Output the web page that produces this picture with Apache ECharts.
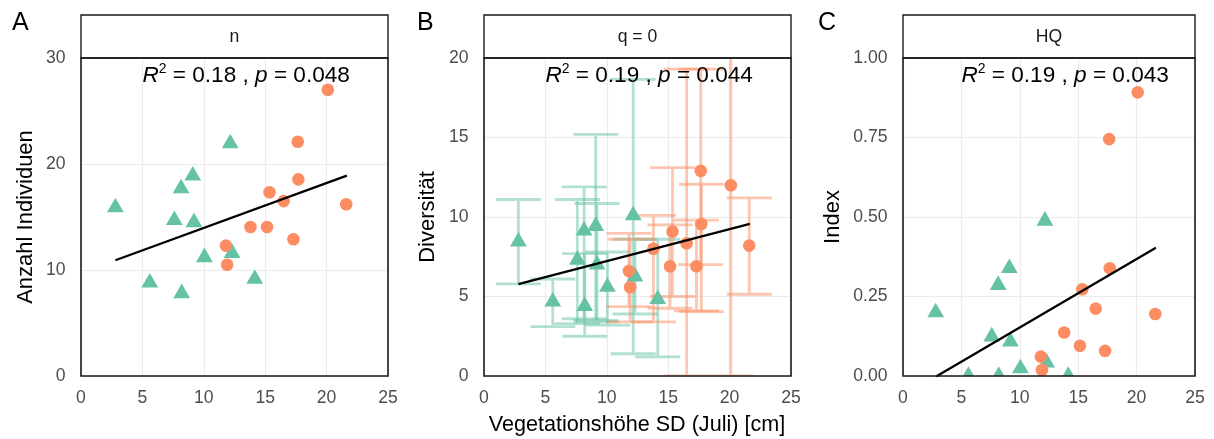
<!DOCTYPE html>
<html><head><meta charset="utf-8">
<script src="https://cdn.jsdelivr.net/npm/echarts@6/dist/echarts.min.js"></script>
<style>html,body{margin:0;padding:0;background:#fff}#c{width:1214px;height:439px}</style>
</head><body><div id="c"></div>
<script>
// ---------------- data ----------------
const xTicks = [0, 5, 10, 15, 20, 25];
const yTicksN = [0, 10, 20, 30];
const yTicksQ0 = [0, 5, 10, 15, 20];
const yTicksHQ = [0, 0.25, 0.5, 0.75, 1];

const panelLetters = ['A', 'B', 'C'];
const stripLabels = ['n', 'q = 0', 'HQ'];
const yTitles = ['Anzahl Individuen', 'Diversität', 'Index'];
const xTitle = 'Vegetationshöhe SD (Juli) [cm]';
const statR2 = ['0.18', '0.19', '0.19'];
const statP = ['0.048', '0.044', '0.043'];

// green group (triangles)
const greenX    = [2.8, 5.6, 7.6, 8.15, 8.2, 9.1, 9.2, 10.05, 12.15, 12.3, 14.15];
const greenN    = [15.9, 8.8, 14.7, 17.7, 7.8, 18.9, 14.5, 11.2, 21.95, 11.6, 9.15];
const greenQ0   = [8.45, 4.67, 7.3, 9.14, 4.4, 9.43, 7.0, 5.6, 10.1, 6.25, 4.83];
const greenQ0Lo = [5.8, 3.1, 3.3, 3.6, 2.5, 3.5, 3.4, 3.2, 1.4, 3.9, 1.2];
const greenQ0Hi = [11.1, 6.1, 11.1, 11.9, 7.7, 15.2, 10.85, 7.8, 18.65, 8.6, 8.6];
const greenHQ   = [0.20, 0.0, 0.124, 0.286, 0.0, 0.339, 0.108, 0.024, 0.488, 0.042, 0.0];

// orange group (circles)
const orangeX    = [11.8, 11.9, 13.8, 15.15, 15.35, 16.5, 17.3, 17.65, 17.7, 20.1, 21.6];
const orangeN    = [12.3, 10.5, 14.06, 14.06, 17.33, 16.5, 12.9, 22.1, 18.55, 27.0, 16.2];
const orangeQ0   = [6.6, 5.58, 8.0, 6.9, 9.08, 8.35, 6.9, 12.9, 9.56, 12.0, 8.2];
const orangeQ0Lo = [4.36, 3.4, 3.4, 4.26, 5.0, 0, 4.1, 7.0, 4.05, 0, 5.14];
const orangeQ0Hi = [8.97, 8.6, 10.1, 9.5, 13.1, 19.3, 9.8, 19.3, 12.06, 21.5, 11.2];
const orangeHQ   = [0.061, 0.019, 0.137, 0.095, 0.273, 0.212, 0.079, 0.745, 0.339, 0.892, 0.195];

// fitted regression lines (endpoints)
const fitX  = [2.8, 21.65];
const fitN  = [10.92, 18.9];
const fitQ0 = [5.78, 9.57];
const fitHQ = [-0.002, 0.403];

// ---------------- layout / style ----------------
const GRIDS = [{left: 81, width: 307}, {left: 484, width: 307}, {left: 903, width: 292}];
const TOP = 58, H = 318, STRIP_TOP = 15;
const FONT = '"Liberation Sans", Arial, Helvetica, sans-serif';
const GREEN = '#66c2a5', ORANGE = '#fc8d62';
const yTickSets = [yTicksN, yTicksQ0, yTicksHQ];
const fits = [fitN, fitQ0, fitHQ];

const chart = echarts.init(document.getElementById('c'), null, {renderer: 'canvas'});

function markerSeries(gi, xs, ys, shape, color) {
  return {
    type: 'custom', xAxisIndex: gi, yAxisIndex: gi, clip: true, z: 5, silent: true,
    data: xs.map((x, i) => [x, ys[i]]),
    renderItem: (params, api) => {
      const p = api.coord([api.value(0), api.value(1)]);
      if (shape === 'tri') {
        const r = 9.7;
        return {type: 'polygon', shape: {points: [[p[0], p[1] - r], [p[0] + r * 0.866, p[1] + r / 2], [p[0] - r * 0.866, p[1] + r / 2]]}, style: {fill: color}};
      }
      return {type: 'circle', shape: {cx: p[0], cy: p[1], r: 6.3}, style: {fill: color}};
    }
  };
}

function errSeries(gi, xs, lo, hi, color) {
  return {
    type: 'custom', xAxisIndex: gi, yAxisIndex: gi, clip: true, z: 3, silent: true,
    data: xs.map((x, i) => [x, lo[i], hi[i]]),
    renderItem: (params, api) => {
      const a = api.coord([api.value(0), api.value(1)]);
      const b = api.coord([api.value(0), api.value(2)]);
      const w = 22.5;
      return {
        type: 'polyline',
        shape: {points: [[a[0] - w, a[1]], [a[0] + w, a[1]], [a[0], a[1]], [b[0], b[1]], [b[0] - w, b[1]], [b[0] + w, b[1]]]},
        style: {stroke: color, lineWidth: 2.8, fill: null, opacity: 0.5}
      };
    }
  };
}

function lineSeries(gi, ys) {
  return {
    type: 'line', xAxisIndex: gi, yAxisIndex: gi, z: 6, silent: true, clip: true,
    data: fitX.map((x, i) => [x, ys[i]]), symbol: 'none',
    lineStyle: {color: '#000', width: 2.3}
  };
}

const series = [];
series.push(markerSeries(0, greenX, greenN, 'tri', GREEN));
series.push(markerSeries(0, orangeX, orangeN, 'circ', ORANGE));
series.push(errSeries(1, greenX, greenQ0Lo, greenQ0Hi, GREEN));
series.push(errSeries(1, orangeX, orangeQ0Lo, orangeQ0Hi, ORANGE));
series.push(markerSeries(1, greenX, greenQ0, 'tri', GREEN));
series.push(markerSeries(1, orangeX, orangeQ0, 'circ', ORANGE));
series.push(markerSeries(2, greenX, greenHQ, 'tri', GREEN));
series.push(markerSeries(2, orangeX, orangeHQ, 'circ', ORANGE));
for (let i = 0; i < 3; i++) series.push(lineSeries(i, fits[i]));

const option = {
  animation: false,
  backgroundColor: '#fff',
  grid: GRIDS.map(g => ({left: g.left, width: g.width, top: TOP, height: H, containLabel: false})),
  xAxis: GRIDS.map((g, i) => ({
    gridIndex: i, type: 'value', min: xTicks[0], max: xTicks[xTicks.length - 1], interval: xTicks[1] - xTicks[0],
    axisLine: {show: false}, axisTick: {show: false},
    splitLine: {show: true, lineStyle: {color: '#ebebeb', width: 1.2}},
    axisLabel: {color: '#4d4d4d', fontSize: 17.6, fontFamily: FONT, margin: 13}
  })),
  yAxis: GRIDS.map((g, i) => {
    const t = yTickSets[i];
    return {
      gridIndex: i, type: 'value', min: t[0], max: t[t.length - 1], interval: t[1] - t[0],
      axisLine: {show: false}, axisTick: {show: false},
      splitLine: {show: true, lineStyle: {color: '#ebebeb', width: 1.2}},
      axisLabel: {color: '#4d4d4d', fontSize: 17.6, fontFamily: FONT, margin: 15.5,
        formatter: i === 2 ? (v => v.toFixed(2)) : (v => String(v))}
    };
  }),
  series: series
};
chart.setOption(option);

// ---------------- decorations ----------------
const yTitleX = [25.5, 427.5, 832.5];
const letterX = [12, 417, 818];
const graphic = [];
GRIDS.forEach((g, i) => {
  // strip
  graphic.push({type: 'rect', z: 100, shape: {x: g.left, y: STRIP_TOP, width: g.width, height: TOP - STRIP_TOP},
    style: {fill: '#fff', stroke: '#1a1a1a', lineWidth: 1.4}});
  graphic.push({type: 'text', z: 101, x: g.left + g.width / 2, y: 37,
    style: {text: stripLabels[i], fill: '#1a1a1a', font: '17.6px ' + FONT, textAlign: 'center', textVerticalAlign: 'middle'}});
  // panel border
  graphic.push({type: 'rect', z: 100, shape: {x: g.left, y: TOP, width: g.width, height: H},
    style: {fill: null, stroke: '#1a1a1a', lineWidth: 1.6}});
  // panel letter
  graphic.push({type: 'text', z: 101, x: letterX[i], y: 23.5,
    style: {text: panelLetters[i], fill: '#000', font: '25px ' + FONT, textAlign: 'left', textVerticalAlign: 'middle'}});
  // y title
  graphic.push({type: 'text', z: 101, x: yTitleX[i], y: TOP + H / 2, rotation: Math.PI / 2,
    style: {text: yTitles[i], fill: '#000', font: '22px ' + FONT, textAlign: 'center', textVerticalAlign: 'middle'}});
  // annotation
  const t = yTickSets[i];
  const px = chart.convertToPixel({gridIndex: i}, [5, t[t.length - 1]]);
  graphic.push({type: 'text', z: 101, x: px[0], y: px[1] + 17.5,
    style: {
      text: '{i|R}{s|2}{t| = ' + statR2[i] + ' , }{i|p}{t| = ' + statP[i] + '}',
      textAlign: 'left', textVerticalAlign: 'middle',
      rich: {
        i: {fontStyle: 'italic', fontSize: 22.6, fontFamily: FONT, color: '#000', lineHeight: 26},
        t: {fontSize: 22.6, fontFamily: FONT, color: '#000', lineHeight: 26},
        s: {fontSize: 14, fontFamily: FONT, color: '#000', lineHeight: 14, verticalAlign: 'top'}
      }
    }});
});
// x title under middle panel
graphic.push({type: 'text', z: 101, x: GRIDS[1].left + GRIDS[1].width / 2 - 0.5, y: 425,
  style: {text: xTitle, fill: '#000', font: '21.6px ' + FONT, textAlign: 'center', textVerticalAlign: 'middle'}});

chart.setOption({graphic: graphic});
</script>
</body></html>
